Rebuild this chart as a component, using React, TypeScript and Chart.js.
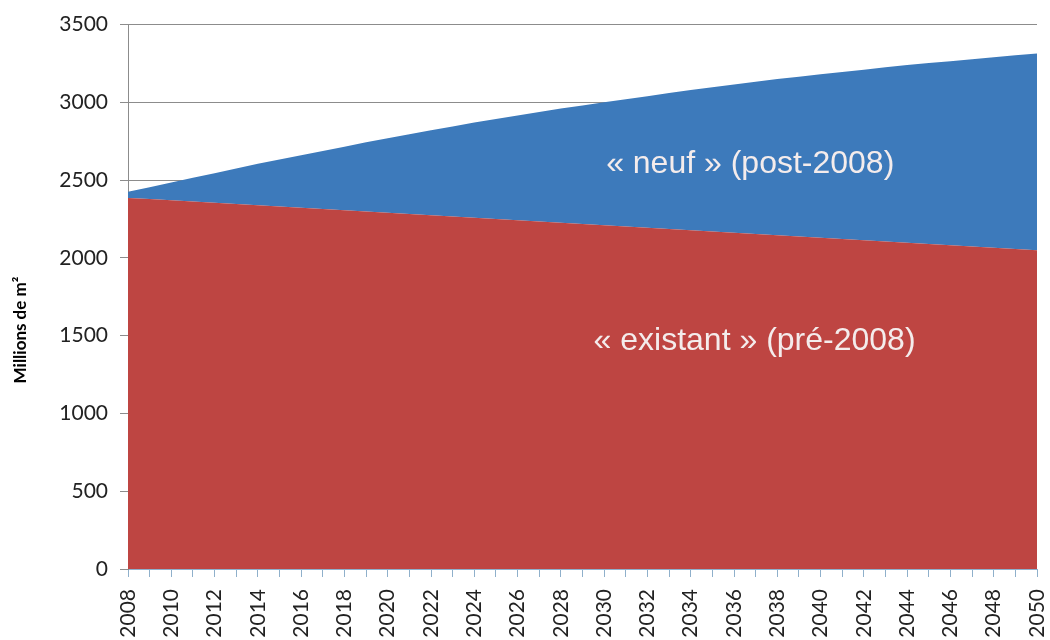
import { useEffect, useRef } from 'react';
import { Chart, registerables } from 'chart.js';

Chart.register(...registerables);

const years = [
  '2008', '2009', '2010', '2011', '2012', '2013', '2014', '2015', '2016', '2017',
  '2018', '2019', '2020', '2021', '2022', '2023', '2024', '2025', '2026', '2027',
  '2028', '2029', '2030', '2031', '2032', '2033', '2034', '2035', '2036', '2037',
  '2038', '2039', '2040', '2041', '2042', '2043', '2044', '2045', '2046', '2047',
  '2048', '2049', '2050',
];

// « existant » (pré-2008), millions de m²
const existant = [
  2385, 2378, 2370, 2362, 2354, 2346, 2338, 2330, 2322, 2314,
  2306, 2298, 2290, 2282, 2274, 2266, 2258, 2250, 2242, 2234,
  2226, 2218, 2210, 2202, 2194, 2186, 2178, 2170, 2162, 2154,
  2146, 2138, 2130, 2122, 2114, 2106, 2098, 2090, 2082, 2074,
  2066, 2058, 2050,
];

// « neuf » (post-2008), millions de m² (stacked on top of existant)
const neuf = [
  40, 77, 115, 153, 191, 229, 267, 302, 338, 374,
  409, 445, 480, 513, 546, 579, 612, 643, 673, 704,
  734, 762, 790, 818, 846, 874, 902, 928, 953, 979,
  1004, 1027, 1050, 1073, 1096, 1119, 1142, 1163, 1183, 1204,
  1224, 1245, 1265,
];

const yTicks = [0, 500, 1000, 1500, 2000, 2500, 3000, 3500];

const labelNeuf = '« neuf » (post-2008)';
const labelExistant = '« existant » (pré-2008)';
const yTitle = 'Millions de m²';

const FONT = 'Lato, "Open Sans", sans-serif';
const ANNOT_FONT = '"Liberation Sans", Arial, sans-serif';

const labelPlugin = {
  id: 'areaLabels',
  afterDatasetsDraw(chart: any) {
    const { ctx, scales } = chart;
    const x = scales.x;
    const y = scales.y;
    ctx.save();
    ctx.fillStyle = '#F4ECEC';
    ctx.font = `32px ${ANNOT_FONT}`;
    ctx.textAlign = 'center';
    ctx.textBaseline = 'middle';
    ctx.fillText(labelNeuf, x.getPixelForValue(28.75), y.getPixelForValue(2600));
    ctx.fillText(labelExistant, x.getPixelForValue(28.95), y.getPixelForValue(1465));
    ctx.restore();

    ctx.save();
    ctx.fillStyle = '#000000';
    ctx.font = `bold 17px ${FONT}`;
    ctx.textAlign = 'center';
    ctx.textBaseline = 'middle';
    ctx.translate(21, 330);
    ctx.rotate(-Math.PI / 2);
    ctx.fillText(yTitle, 0, 0);
    ctx.restore();
  },
};

export default function App() {
  const ref = useRef<HTMLCanvasElement | null>(null);

  useEffect(() => {
    if (!ref.current) return;
    const chart = new Chart(ref.current, {
      type: 'line',
      data: {
        labels: years,
        datasets: [
          {
            label: labelExistant,
            data: existant,
            backgroundColor: '#BE4542',
            borderWidth: 0,
            pointRadius: 0,
            fill: 'origin',
            tension: 0,
          },
          {
            label: labelNeuf,
            data: neuf,
            backgroundColor: '#3D7ABB',
            borderWidth: 0,
            pointRadius: 0,
            fill: '-1',
            tension: 0,
          },
        ],
      },
      options: {
        animation: false,
        responsive: true,
        maintainAspectRatio: false,
        layout: { padding: { top: 23, right: 13, left: 0, bottom: 0 } },
        plugins: {
          legend: { display: false },
          tooltip: { enabled: false },
        },
        scales: {
          x: {
            type: 'category',
            offset: false,
            grid: {
              drawOnChartArea: false,
              drawTicks: true,
              tickLength: 8,
              color: '#8FB0CB',
            },
            border: { display: true, color: '#8FB0CB' },
            ticks: {
              autoSkip: false,
              minRotation: 90,
              maxRotation: 90,
              padding: 12,
              color: '#222222',
              font: { family: FONT, size: 21 },
              callback: (_v: any, i: number) => (i % 2 === 0 ? years[i] : ''),
            },
            afterFit: (s: any) => {
              s.height = 71;
              s.paddingRight = 0;
              s.paddingLeft = 0;
            },
          },
          y: {
            stacked: true,
            min: 0,
            max: 3500,
            afterBuildTicks: (s: any) => {
              s.ticks = yTicks.map((v) => ({ value: v }));
            },
            grid: {
              color: '#8C8C8C',
              lineWidth: 1,
              tickLength: 8,
            },
            border: { display: true, color: '#8C8C8C' },
            ticks: {
              padding: 12,
              color: '#222222',
              font: { family: FONT, size: 21 },
              callback: (v: any) => String(v),
            },
            afterFit: (s: any) => {
              s.width = 128;
            },
          },
        },
      },
      plugins: [labelPlugin],
    });
    return () => chart.destroy();
  }, []);

  return (
    <div style={{ position: 'absolute', left: 0, top: 0, width: 1050, height: 640, background: '#fff' }}>
      <canvas ref={ref} />
    </div>
  );
}
